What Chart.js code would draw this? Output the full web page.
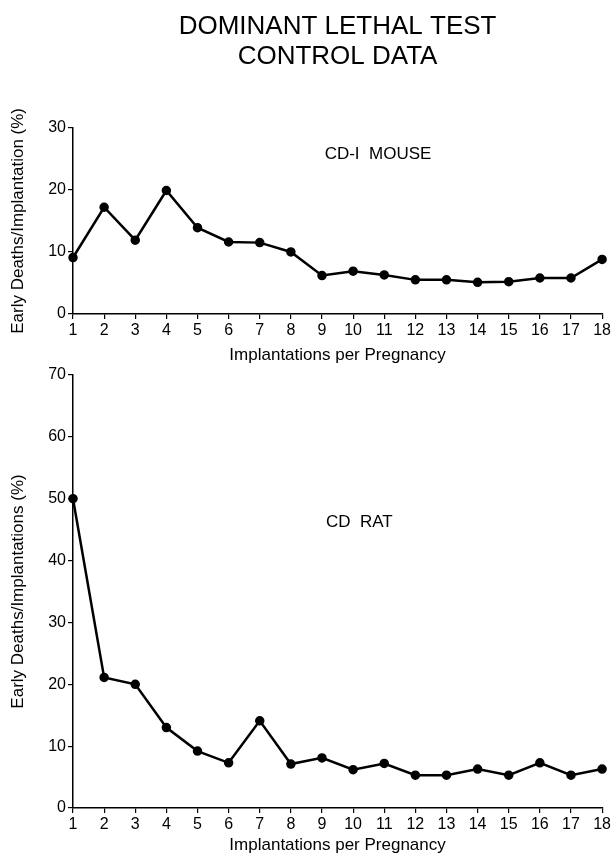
<!DOCTYPE html>
<html>
<head>
<meta charset="utf-8">
<script src="https://cdn.jsdelivr.net/npm/chart.js@4/dist/chart.umd.min.js"></script>
<style>
  body { margin: 0; background: #fff; }
  #wrap { position: relative; width: 613px; height: 856px; }
  #mouseBox { position: absolute; left: 0; top: 0; width: 613px; height: 370px; }
  #ratBox { position: absolute; left: 0; top: 360px; width: 613px; height: 496px; }
</style>
</head>
<body>
<div id="wrap">
  <div id="mouseBox"><canvas id="mouseChart"></canvas></div>
  <div id="ratBox"><canvas id="ratChart"></canvas></div>
</div>
<script>
// data
const implantations = [1, 2, 3, 4, 5, 6, 7, 8, 9, 10, 11, 12, 13, 14, 15, 16, 17, 18];
const mouseDeaths = [9.1, 17.2, 11.9, 19.9, 13.9, 11.6, 11.5, 10.0, 6.2, 6.9, 6.3, 5.5, 5.5, 5.1, 5.2, 5.8, 5.8, 8.8];
const ratDeaths = [50, 21.1, 20.0, 13.0, 9.2, 7.3, 14.1, 7.1, 8.1, 6.2, 7.2, 5.3, 5.3, 6.3, 5.3, 7.3, 5.3, 6.3];
const mouseTicks = [0, 10, 20, 30];
const ratTicks = [0, 10, 20, 30, 40, 50, 60, 70];

const FONT = "'Liberation Sans', Arial, sans-serif";

// draws the species label inside the plot, placed by data value
const labelPlugin = {
    id: 'speciesLabel',
    afterDatasetsDraw(chart, args, opts) {
        const ctx = chart.ctx;
        const x = chart.scales.x.getPixelForValue(opts.xValue - 1);
        const y = chart.scales.y.getPixelForValue(opts.yValue);
        ctx.save();
        ctx.font = '17px ' + FONT;
        ctx.fillStyle = '#000';
        ctx.textAlign = 'center';
        ctx.textBaseline = 'middle';
        ctx.fillText(opts.text, x, y);
        ctx.restore();
    }
};

function makeChart(id, values, ticks, yTitle, label, opts) {
    return new Chart(document.getElementById(id), {
        type: 'line',
        data: {
            labels: implantations,
            datasets: [{
                data: values,
                borderColor: '#000',
                backgroundColor: '#000',
                borderWidth: 2.5,
                pointRadius: 3.5,
                pointBackgroundColor: '#000',
                tension: 0
            }]
        },
        options: {
            responsive: true,
            maintainAspectRatio: false,
            animation: false,
            layout: { padding: opts.padding },
            plugins: {
                legend: { display: false },
                tooltip: { enabled: false },
                title: opts.title,
                speciesLabel: label
            },
            scales: {
                x: {
                    type: 'category',
                    offset: false,
                    grid: { drawOnChartArea: false, drawTicks: true, tickLength: 5, color: '#000', lineWidth: 1.2 },
                    border: { color: '#000', width: 1.5 },
                    ticks: { color: '#000', font: { family: FONT, size: 16 }, padding: 2, maxRotation: 0, autoSkip: false },
                    title: { display: true, text: 'Implantations per Pregnancy', color: '#000', font: { family: FONT, size: 17 }, padding: { top: 4, bottom: 0 } },
                    afterFit(scale) { scale.height = opts.xHeight; }
                },
                y: {
                    min: ticks[0],
                    max: ticks[ticks.length - 1],
                    afterBuildTicks(scale) { scale.ticks = ticks.map(v => ({ value: v })); },
                    grid: { drawOnChartArea: false, drawTicks: true, tickLength: 5, color: '#000', lineWidth: 1.2 },
                    border: { color: '#000', width: 1.5 },
                    ticks: { color: '#000', font: { family: FONT, size: 16 }, padding: 2 },
                    title: { display: true, text: yTitle, color: '#000', font: { family: FONT, size: 17 }, padding: { top: 0, bottom: 4 } },
                    afterFit(scale) { scale.width = 73 - opts.padding.left; }
                }
            }
        },
        plugins: [labelPlugin]
    });
}

makeChart('mouseChart', mouseDeaths, mouseTicks, 'Early Deaths/Implantation (%)',
    { text: 'CD-I  MOUSE', xValue: 10.8, yValue: 25.8 },
    {
        padding: { left: 8, right: 9, top: 0, bottom: 4 },
        xHeight: 52,
        title: {
            display: true,
            fullSize: false,
            text: ['DOMINANT LETHAL TEST', 'CONTROL DATA'],
            color: '#000',
            font: { family: FONT, size: 26, weight: 'normal', lineHeight: 1.15 },
            padding: { top: 12, bottom: 56 }
        }
    });

makeChart('ratChart', ratDeaths, ratTicks, 'Early Deaths/Implantations (%)',
    { text: 'CD  RAT', xValue: 10.2, yValue: 46.2 },
    {
        padding: { left: 8, right: 9, top: 15, bottom: 0 },
        xHeight: 48,
        title: { display: false }
    });
</script>
</body>
</html>
